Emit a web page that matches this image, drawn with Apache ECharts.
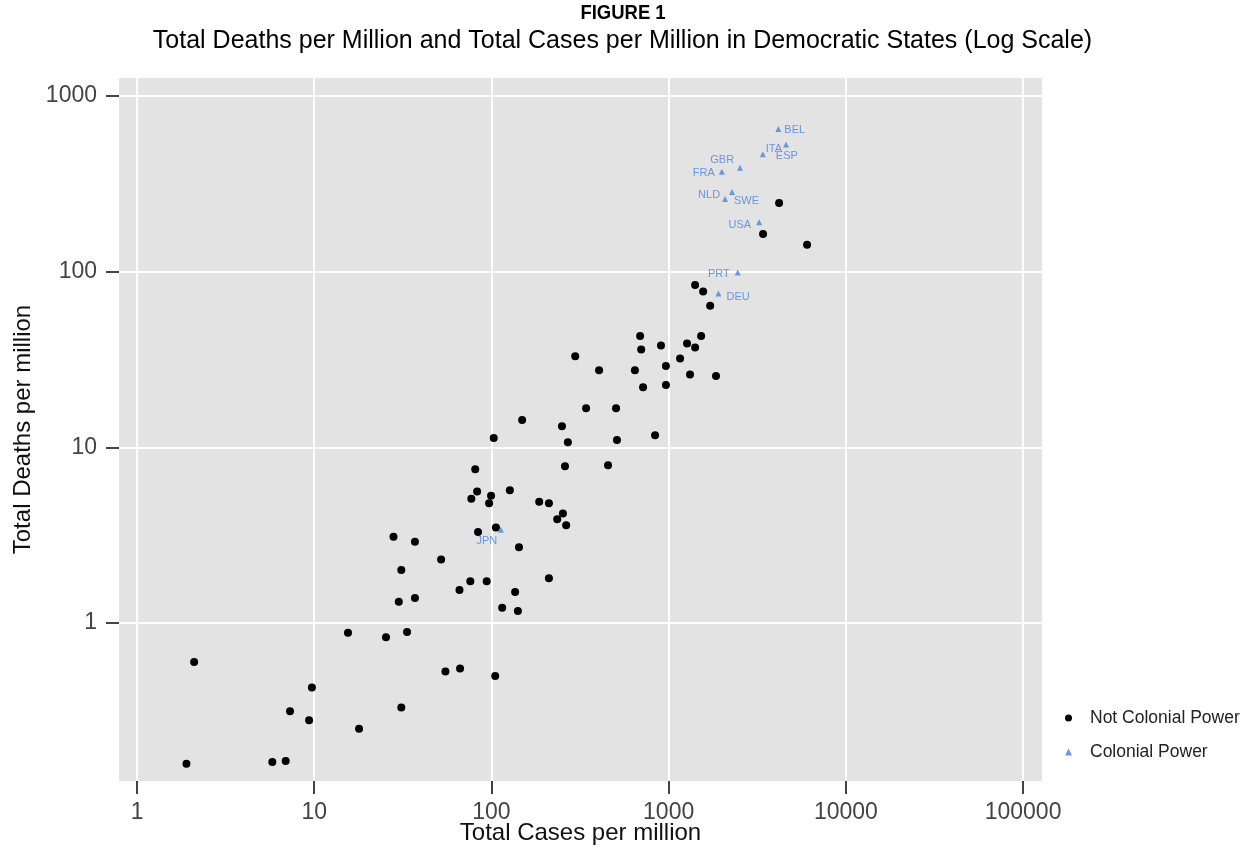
<!DOCTYPE html>
<html>
<head>
<meta charset="utf-8">
<script src="https://cdn.jsdelivr.net/npm/echarts@6/dist/echarts.min.js"></script>
<style>
html,body{margin:0;padding:0;background:#fff;}
#chart{width:1245px;height:854px;}
</style>
</head>
<body>
<div id="chart"></div>
<script>
// ---- Data ----
const notColonialCases = [6040,4200,3410,1410,1565,1715,690,700,905,1270,1525,1410,297,405,645,965,1160,1320,1850,717,965,342,505,149,250,270,511,838,103,81,260,455,83,77,99.5,97,127,186,211,253,235,264,84,106,28,37,143,52,31,76,94,66,136,211,30,37,115,141,15.5,25.4,33.4,55,66.5,105,9.7,2.1,7.3,9.35,17.9,31,1.9,5.8,6.9];
const notColonialDeaths = [142,246,164,84,77,64,43,36,38,39,43,37,33,27.5,27.5,29,32,26,25.5,22,22.6,16.7,16.7,14.3,13.2,10.7,11,11.7,11.3,7.5,7.8,7.9,5.6,5.1,5.3,4.8,5.7,4.9,4.8,4.2,3.9,3.6,3.3,3.5,3.1,2.9,2.7,2.3,2.0,1.73,1.73,1.54,1.5,1.8,1.32,1.39,1.22,1.17,0.88,0.83,0.89,0.53,0.55,0.5,0.43,0.6,0.315,0.28,0.25,0.33,0.158,0.162,0.164];
const colonialCodes  = ['BEL','ITA','ESP','GBR','FRA','NLD','SWE','USA','PRT','DEU','JPN'];
const colonialCases  = [4160,4600,3400,2530,1995,2280,2080,3240,2455,1910,113];
const colonialDeaths = [648,530,465,390,370,284,259,191,99,75,3.4];
const xTicks = [1,10,100,1000,10000,100000];
const yTicks = [1,10,100,1000];

// ---- Label placement (style only) ----
const labelPlacement = {
  BEL:{position:'right',distance:3,offset:[0,1]},
  ITA:{position:'left',distance:1,offset:[0,5]},
  ESP:{position:'right',distance:10,offset:[0,2]},
  GBR:{position:'left',distance:3,offset:[0,-8]},
  FRA:{position:'left',distance:4,offset:[0,1]},
  NLD:{position:'left',distance:9,offset:[0,3]},
  SWE:{position:'right',distance:6,offset:[0,2]},
  USA:{position:'left',distance:5,offset:[0,3]},
  PRT:{position:'left',distance:5,offset:[0,2]},
  DEU:{position:'right',distance:5,offset:[0,3]},
  JPN:{position:'bottom',distance:3,offset:[-14,0]}
};

const BLUE = '#6a96e0';
const FONT = 'Liberation Sans, Arial, sans-serif';
const blackData = notColonialCases.map((c,i)=>[c, notColonialDeaths[i]]);
const blueData = colonialCodes.map((code,i)=>({
  name: code,
  value: [colonialCases[i], colonialDeaths[i]],
  label: Object.assign({show:true}, labelPlacement[code])
}));

const isPow10 = v => {
  const l = Math.log10(v);
  return Math.abs(l - Math.round(l)) < 1e-6;
};
const fmt = v => isPow10(v) ? String(Math.round(v)) : '';

const chart = echarts.init(document.getElementById('chart'), null, {renderer:'canvas'});
chart.setOption({
  animation:false,
  backgroundColor:'#ffffff',
  title:[
    {text:'Total Deaths per Million and Total Cases per Million in Democratic States (Log Scale)',
     left:'center', top:24,
     textStyle:{fontFamily:FONT, fontSize:25, fontWeight:'normal', color:'#000'}}
  ],
  graphic:[
    {type:'text', x:623, y:3, scaleX:0.88, silent:true,
     style:{text:'FIGURE 1', font:'bold 21px Liberation Sans, Arial, sans-serif', fill:'#000',
            textAlign:'center', textVerticalAlign:'top'}}
  ],
  legend:{
    orient:'vertical', left:1060, top:704, itemGap:16,
    itemWidth:7, itemHeight:7,
    textStyle:{fontFamily:FONT, fontSize:17.5, color:'#222', padding:[0,0,0,13]},
    data:[
      {name:'Not Colonial Power', icon:'circle', itemStyle:{color:'#000', opacity:1}},
      {name:'Colonial Power', icon:'triangle', itemStyle:{color:BLUE, opacity:1}}
    ]
  },
  grid:{left:119, right:203, top:78, bottom:73, show:true, backgroundColor:'#e3e3e3', borderWidth:0,
        containLabel:false, outerBoundsMode:'none'},
  xAxis:{
    type:'log', logBase:10, min:0.791, max:127900,
    name:'Total Cases per million', nameLocation:'middle', nameGap:40, nameMoveOverlap:false,
    nameTextStyle:{fontFamily:FONT, fontSize:24, color:'#111'},
    axisLine:{show:false},
    axisTick:{show:true, length:13, lineStyle:{color:'#444', width:2}, customValues:xTicks},
    axisLabel:{fontFamily:FONT, fontSize:23, color:'#444', margin:20, formatter:fmt, customValues:xTicks},
    splitLine:{show:true, lineStyle:{color:'#ffffff', width:2}},
    minorSplitLine:{show:false}
  },
  yAxis:{
    type:'log', logBase:10, min:0.1261, max:1265,
    name:'Total Deaths per million', nameLocation:'middle', nameGap:84, nameRotate:90, nameMoveOverlap:false,
    nameTextStyle:{fontFamily:FONT, fontSize:24, color:'#111'},
    axisLine:{show:false},
    axisTick:{show:true, length:13, lineStyle:{color:'#444', width:2}, customValues:yTicks},
    axisLabel:{fontFamily:FONT, fontSize:23, color:'#444', margin:22, formatter:fmt, customValues:yTicks},
    splitLine:{show:true, lineStyle:{color:'#ffffff', width:2}},
    minorSplitLine:{show:false}
  },
  series:[
    {
      name:'Not Colonial Power', type:'scatter', symbol:'circle', symbolSize:8,
      itemStyle:{color:'#000', opacity:1},
      data: blackData, z:3
    },
    {
      name:'Colonial Power', type:'scatter', symbol:'triangle', symbolSize:6,
      itemStyle:{color:BLUE, opacity:1},
      label:{show:true, formatter:'{b}', color:BLUE, fontFamily:FONT, fontSize:11},
      data: blueData, z:4
    }
  ]
});
</script>
</body>
</html>
